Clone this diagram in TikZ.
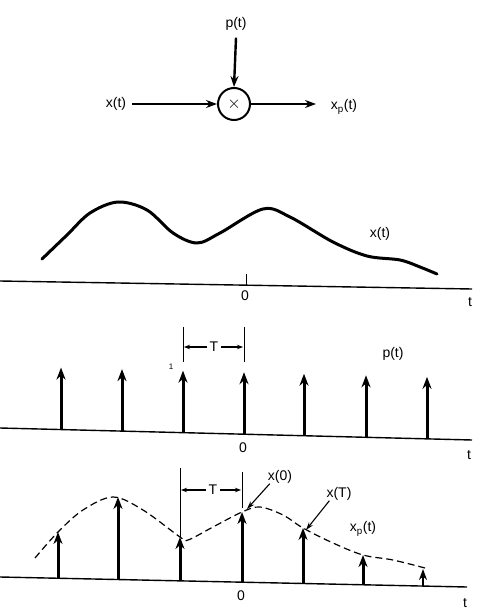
\documentclass[tikz,border=0pt]{standalone}
\usepackage{fontspec}
\setmainfont{Liberation Sans}
\usetikzlibrary{arrows.meta}
\begin{document}
\begin{tikzpicture}[x=1pt,y=-1pt,
  lbl/.style={inner sep=0pt,font=\fontsize{14}{16}\selectfont},
  sig/.style={line width=2.4pt,-{Stealth[length=11pt,width=8pt]}},
  imp/.style={line width=3pt,-{Stealth[length=12pt,width=9pt]}},
  axis/.style={line width=1.4pt},
  dim/.style={line width=0.9pt},
  darr/.style={line width=1.1pt,-{Stealth[length=6pt,width=4.5pt]}},
  ptr/.style={line width=1.1pt,-{Stealth[length=8pt,width=5pt]}},
  curve/.style={line width=3pt,line cap=round,line join=round},
  dcurve/.style={line width=1.2pt,dash pattern=on 7pt off 4pt}]
\useasboundingbox (0,0) rectangle (497,612);
% ---------- block diagram ----------
\node[draw,circle,line width=2pt,minimum size=32pt,inner sep=0pt,font=\fontsize{16}{16}\selectfont] (m) at (234,104) {$\times$};
\node[lbl] (pin) at (236,24) {p(t)};
\node[lbl] (xin) at (116,104) {x(t)};
\node[lbl] (xo) at (344,107) {x\textsubscript{p}(t)};
\draw[sig] (pin.south)+(0,7) -- (m.north);
\draw[sig] (xin.east)+(6,0) -- (m.west);
\coordinate (oe) at (316,104);
\draw[sig] (m.east) -- (oe);
% ---------- x(t) ----------
\coordinate (a1l) at (0,281); \coordinate (a1r) at (472,289);
\draw[axis] (a1l) -- (a1r);
\coordinate (tk1) at (246,274); \coordinate (tk1b) at (246,285);
\draw[dim] (tk1) -- (tk1b);
\node[lbl] (z1) at (245,296) {0};
\node[lbl] (t1) at (470,302) {t};
\draw[curve] plot[smooth,tension=0.55] coordinates {(42,259) (67,235) (90,213) (118,202) (147,210) (173,233) (197,243) (220,233) (263,209) (290,217) (333,242) (367,256) (400,260) (420,267) (437,274)};
\node[lbl] (xl) at (380,234) {x(t)};
% ---------- p(t) ----------
\coordinate (a2l) at (0,428); \coordinate (a2r) at (472,440);
\draw[axis] (a2l) -- (a2r);
\foreach \i/\x in {1/61,2/122,3/183,4/244,5/304,6/366,7/427}{
  \pgfmathsetmacro{\yb}{428+12*\x/472}
  \coordinate (pb\i) at (\x,\yb);
  \coordinate (pt\i) at (\x,\yb-62);
  \draw[imp] (pb\i) -- (pt\i);
}
\coordinate (v2a) at (183,327); \coordinate (v2b) at (183,362);
\coordinate (v2c) at (244,327); \coordinate (v2d) at (244,362);
\draw[dim] (v2a) -- (v2b); \draw[dim] (v2c) -- (v2d);
\node[lbl] (T2) at (214,347) {T};
\coordinate (d2l) at (184,347); \coordinate (d2r) at (243,347);
\draw[darr] (T2.west)+(-3,0) -- (d2l);
\draw[darr] (T2.east)+(3,0) -- (d2r);
\node[inner sep=0pt,font=\fontsize{8}{9}\selectfont] (one) at (171,367) {1};
\node[lbl] (pl) at (393,354) {p(t)};
\node[lbl] (z2) at (243,448) {0};
\node[lbl] (t2) at (469,455) {t};
% ---------- x_p(t) ----------
\coordinate (a3l) at (0,577); \coordinate (a3r) at (467,587);
\draw[axis] (a3l) -- (a3r);
\draw[dcurve] plot[smooth,tension=0.55] coordinates {(35,558) (58,532) (83,510) (113,497) (143,510) (180,537) (188,540) (213,527) (242,512) (260,507) (283,515) (303,528) (333,543) (363,555) (393,560) (425,568)};
\foreach \i/\x/\yt in {1/58/532,2/118/497,3/180/537,4/242/512,5/303/528,6/363/555}{
  \pgfmathsetmacro{\yb}{577+10*\x/467}
  \coordinate (qb\i) at (\x,\yb);
  \coordinate (qt\i) at (\x,\yt);
  \draw[imp] (qb\i) -- (qt\i);
}
\coordinate (qb7) at (423,586); \coordinate (qt7) at (423,569);
\draw[line width=2pt,-{Stealth[length=11pt,width=8pt]}] (qb7) -- (qt7);
\coordinate (v3a) at (180,468); \coordinate (v3b) at (180,537);
\coordinate (v3c) at (242,472); \coordinate (v3d) at (242,508);
\draw[dim] (v3a) -- (v3b); \draw[dim] (v3c) -- (v3d);
\node[lbl] (T3) at (213,490) {T};
\coordinate (d3l) at (181,490); \coordinate (d3r) at (241,490);
\draw[darr] (T3.west)+(-3,0) -- (d3l);
\draw[darr] (T3.east)+(3,0) -- (d3r);
\node[lbl] (x0) at (280,477) {x(0)};
\node[lbl] (xT) at (339,494) {x(T)};
\coordinate (x0t) at (247,509); \coordinate (xTt) at (306,530);
\draw[ptr] (x0.south west)+(2,0) -- (x0t);
\draw[ptr] (xT.south west)+(3,0) -- (xTt);
\node[lbl] (xpl) at (363,529) {x\textsubscript{p}(t)};
\node[lbl] (z3) at (241,596) {0};
\node[lbl] (t3) at (465,603) {t};
\end{tikzpicture}
\end{document}
